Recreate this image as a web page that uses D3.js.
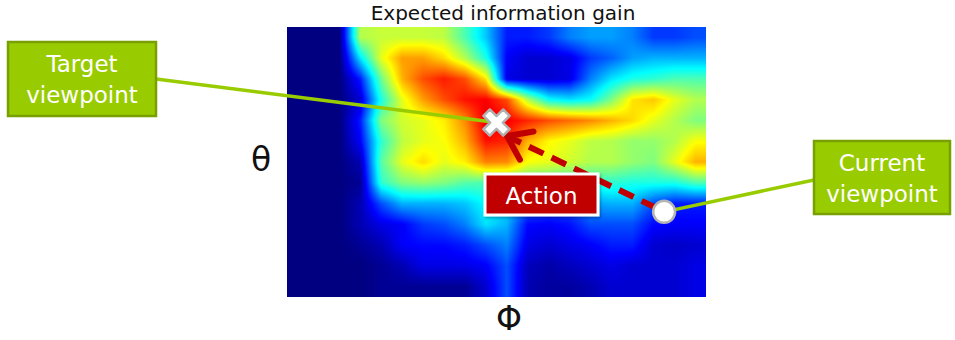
<!DOCTYPE html>
<html>
<head>
<meta charset="utf-8">
<script src="https://cdn.jsdelivr.net/npm/d3@7"></script>
<style>
  html, body { margin: 0; padding: 0; background: #fff; }
  svg { display: block; }
  text { font-family: "DejaVu Sans", sans-serif; }
</style>
</head>
<body>
<svg id="chart" width="955" height="340"></svg>
<script>
// Expected information gain over the (phi, theta) viewpoint grid, normalised 0..1.
// Rows run top (row 0) to bottom, columns run left to right.
const phiBins = 20;
const thetaBins = 13;
const gainRows = [
  [0.00,0.00,0.00,0.55,0.57,0.57,0.57,0.56,0.45,0.32,0.15,0.15,0.18,0.25,0.28,0.28,0.25,0.18,0.18,0.20],
  [0.00,0.00,0.00,0.35,0.60,0.72,0.72,0.66,0.55,0.40,0.12,0.08,0.08,0.10,0.18,0.22,0.28,0.30,0.30,0.30],
  [0.00,0.00,0.00,0.15,0.48,0.70,0.80,0.85,0.80,0.65,0.10,0.08,0.08,0.10,0.25,0.35,0.40,0.42,0.45,0.45],
  [0.00,0.00,0.00,0.08,0.40,0.60,0.72,0.80,0.86,0.88,0.80,0.55,0.38,0.35,0.38,0.50,0.65,0.68,0.60,0.55],
  [0.00,0.00,0.00,0.15,0.50,0.58,0.60,0.64,0.74,0.90,0.88,0.84,0.80,0.77,0.74,0.70,0.66,0.60,0.55,0.50],
  [0.00,0.00,0.00,0.12,0.42,0.56,0.60,0.62,0.70,0.86,0.84,0.70,0.63,0.60,0.56,0.55,0.52,0.52,0.55,0.62],
  [0.00,0.00,0.00,0.05,0.46,0.60,0.66,0.60,0.64,0.75,0.74,0.62,0.60,0.58,0.55,0.55,0.52,0.50,0.60,0.70],
  [0.00,0.00,0.00,0.02,0.42,0.50,0.52,0.50,0.46,0.45,0.45,0.45,0.45,0.42,0.42,0.42,0.40,0.40,0.40,0.45],
  [0.00,0.00,0.00,0.05,0.20,0.30,0.30,0.30,0.32,0.38,0.35,0.25,0.22,0.22,0.28,0.30,0.30,0.20,0.15,0.15],
  [0.00,0.00,0.00,0.05,0.10,0.12,0.18,0.20,0.25,0.35,0.30,0.13,0.12,0.14,0.20,0.20,0.20,0.13,0.12,0.12],
  [0.00,0.00,0.00,0.02,0.05,0.12,0.13,0.13,0.15,0.20,0.25,0.10,0.08,0.10,0.12,0.15,0.15,0.08,0.07,0.08],
  [0.00,0.00,0.00,0.00,0.02,0.05,0.10,0.10,0.10,0.12,0.20,0.06,0.04,0.06,0.08,0.10,0.08,0.08,0.08,0.10],
  [0.00,0.00,0.00,0.00,0.02,0.02,0.02,0.02,0.02,0.08,0.20,0.05,0.03,0.03,0.05,0.08,0.08,0.08,0.08,0.10]
];

// Viewpoints and the move between them, in grid coordinates (column, row).
const targetView = [10.0, 4.6];
const currentView = [18.0, 8.9];
const arrowTip = [10.5, 5.25];

const titleText = "Expected information gain";
const thetaLabel = "θ";
const phiLabel = "Φ";
const targetLabel = ["Target", "viewpoint"];
const currentLabel = ["Current", "viewpoint"];
const actionLabel = "Action";

// Classic jet colour map.
function jet(t) {
  const c = v => Math.max(0, Math.min(1, v));
  const r = c(1.5 - Math.abs(4 * t - 3));
  const g = c(1.5 - Math.abs(4 * t - 2));
  const b = c(1.5 - Math.abs(4 * t - 1));
  return `rgb(${Math.round(r * 255)},${Math.round(g * 255)},${Math.round(b * 255)})`;
}

const svg = d3.select("#chart");
const plot = { x0: 287, x1: 706, y0: 27, y1: 297 };
const W = plot.x1 - plot.x0, H = plot.y1 - plot.y0;

const x = d3.scaleLinear().domain([0, phiBins]).range([plot.x0, plot.x1]);
const y = d3.scaleLinear().domain([0, thetaBins]).range([plot.y0, plot.y1]);
const color = d3.scaleSequential(jet).domain([0, 1]);

// Smoothly interpolated heat map, rendered pixel by pixel on a canvas.
const canvas = document.createElement("canvas");
canvas.width = W; canvas.height = H;
const ctx = canvas.getContext("2d");
const img = ctx.createImageData(W, H);
const clamp = (v, lo, hi) => Math.max(lo, Math.min(hi, v));
function gainAt(u, v) {
  const uc = clamp(u - 0.5, 0, phiBins - 1), vc = clamp(v - 0.5, 0, thetaBins - 1);
  const i0 = Math.floor(uc), j0 = Math.floor(vc);
  const i1 = Math.min(i0 + 1, phiBins - 1), j1 = Math.min(j0 + 1, thetaBins - 1);
  const fu = uc - i0, fv = vc - j0;
  const a = gainRows[j0][i0] * (1 - fu) + gainRows[j0][i1] * fu;
  const b = gainRows[j1][i0] * (1 - fu) + gainRows[j1][i1] * fu;
  return a * (1 - fv) + b * fv;
}
for (let py = 0; py < H; py++) {
  const v = y.invert(plot.y0 + py + 0.5);
  for (let px = 0; px < W; px++) {
    const u = x.invert(plot.x0 + px + 0.5);
    const c = d3.rgb(color(gainAt(u, v)));
    const k = (py * W + px) * 4;
    img.data[k] = c.r; img.data[k + 1] = c.g; img.data[k + 2] = c.b; img.data[k + 3] = 255;
  }
}
ctx.putImageData(img, 0, 0);
svg.append("image")
  .attr("x", plot.x0).attr("y", plot.y0)
  .attr("width", W).attr("height", H)
  .attr("href", canvas.toDataURL());

// Title and axis symbols
svg.append("text").attr("x", 503).attr("y", 20)
  .attr("text-anchor", "middle").attr("font-size", 20).attr("fill", "#111")
  .text(titleText);
svg.append("text").attr("x", 261).attr("y", 171)
  .attr("text-anchor", "middle").attr("font-size", 33).attr("fill", "#111")
  .text(thetaLabel);
svg.append("text").attr("x", 509).attr("y", 330)
  .attr("text-anchor", "middle").attr("font-size", 33).attr("fill", "#111")
  .text(phiLabel);

const green = "#99cc00", greenDark = "#78a000";
const tx = x(targetView[0]), ty = y(targetView[1]);
const cx = x(currentView[0]), cy = y(currentView[1]);

// Leader lines from the callouts to the viewpoints
svg.append("line").attr("x1", 156).attr("y1", 79).attr("x2", tx).attr("y2", ty)
  .attr("stroke", green).attr("stroke-width", 3.5);
svg.append("line").attr("x1", cx).attr("y1", cy).attr("x2", 814).attr("y2", 180)
  .attr("stroke", green).attr("stroke-width", 3.5);

// Action arrow: dashed shaft plus open head
const ax = x(arrowTip[0]), ay = y(arrowTip[1]);
const red = "#c00000";
svg.append("line").attr("x1", cx - 8).attr("y1", cy - 4).attr("x2", ax + 4).attr("y2", ay + 2)
  .attr("stroke", red).attr("stroke-width", 6).attr("stroke-dasharray", "16,9");
const ang = Math.atan2(cy - ay, cx - ax);
const head = [ang + 0.62, ang - 0.62].map(a => [ax + 27 * Math.cos(a), ay + 27 * Math.sin(a)]);
svg.append("path")
  .attr("d", `M${head[0][0]},${head[0][1]}L${ax},${ay}L${head[1][0]},${head[1][1]}`)
  .attr("fill", "none").attr("stroke", red).attr("stroke-width", 6)
  .attr("stroke-linecap", "round").attr("stroke-linejoin", "round");

// Target marker (X)
const xm = svg.append("g").attr("transform", `translate(${tx},${ty}) rotate(45)`);
const cross = "M-4.5,-14H4.5V-4.5H14V4.5H4.5V14H-4.5V4.5H-14V-4.5H-4.5Z";
xm.append("path").attr("d", cross).attr("fill", "#fff").attr("stroke", "#b0b0b0").attr("stroke-width", 2.5)
  .attr("stroke-linejoin", "round");

// Current viewpoint marker
svg.append("circle").attr("cx", cx).attr("cy", cy).attr("r", 11)
  .attr("fill", "#fff").attr("stroke", "#b4b4b4").attr("stroke-width", 2.5);

// Action label
const defs = svg.append("defs");
const f = defs.append("filter").attr("id", "shadow").attr("x", "-20%").attr("y", "-20%").attr("width", "140%").attr("height", "150%");
f.append("feDropShadow").attr("dx", 1).attr("dy", 1.5).attr("stdDeviation", 1.5).attr("flood-opacity", 0.35);
svg.append("rect").attr("x", 485).attr("y", 174).attr("width", 113).attr("height", 41)
  .attr("fill", red).attr("stroke", "#fff").attr("stroke-width", 3).attr("filter", "url(#shadow)");
svg.append("text").attr("x", 541.5).attr("y", 203.5).attr("text-anchor", "middle")
  .attr("font-size", 23).attr("fill", "#fff").text(actionLabel);

// Callout boxes
function callout(bx, by, bw, bh, lines) {
  svg.append("rect").attr("x", bx).attr("y", by).attr("width", bw).attr("height", bh)
    .attr("fill", green).attr("stroke", greenDark).attr("stroke-width", 2.5);
  lines.forEach((s, i) => {
    svg.append("text").attr("x", bx + bw / 2).attr("y", by + 30 + i * 31)
      .attr("text-anchor", "middle").attr("font-size", 23).attr("fill", "#fff").text(s);
  });
}
callout(8, 42, 148, 74, targetLabel);
callout(814, 141, 136, 73, currentLabel);
</script>
</body>
</html>
